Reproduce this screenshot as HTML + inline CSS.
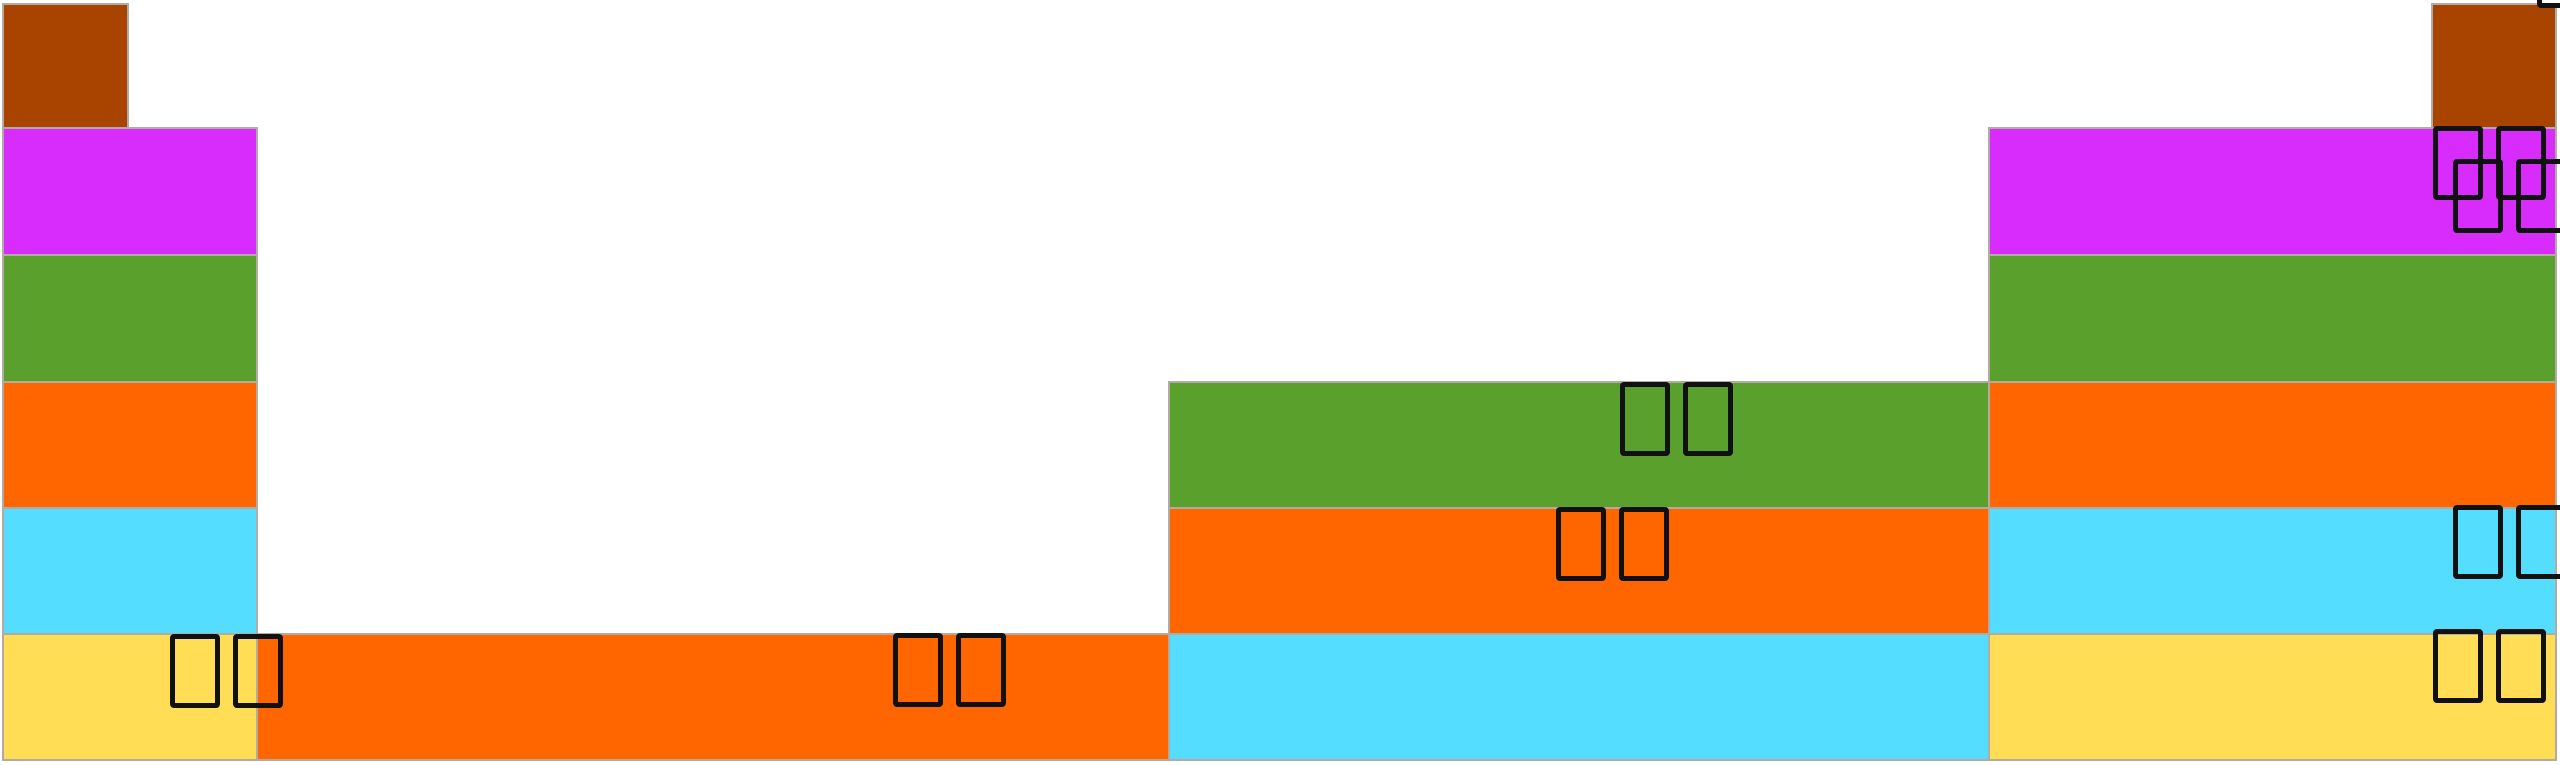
<!DOCTYPE html>
<html><head><meta charset="utf-8"><style>
html,body{margin:0;padding:0;background:#fff;}
body{width:2560px;height:765px;position:relative;overflow:hidden;font-family:"Liberation Sans","Noto Sans CJK SC",sans-serif;}
.r{position:absolute;box-sizing:border-box;border:2px solid #b4aaa4;}
.l{position:absolute;display:flex;gap:13px;}
.l span{display:block;width:50px;height:74px;box-sizing:border-box;border:5px solid #111;border-radius:4px;}
</style></head><body>
<!-- left column -->
<div class="r" style="left:2px;top:3px;width:127px;height:126px;background:#a94400"></div>
<div class="r" style="left:2px;top:127px;width:256px;height:129px;background:#d82cfc"></div>
<div class="r" style="left:2px;top:254px;width:256px;height:129px;background:#5aa02c"></div>
<div class="r" style="left:2px;top:381px;width:256px;height:129px;background:#ff6600"></div>
<div class="r" style="left:2px;top:507px;width:256px;height:129px;background:#55ddff"></div>
<div class="r" style="left:2px;top:633px;width:256px;height:128px;background:#ffdd55"></div>
<!-- col2 -->
<div class="r" style="left:256px;top:633px;width:914px;height:128px;background:#ff6600"></div>
<!-- col3 -->
<div class="r" style="left:1168px;top:381px;width:822px;height:129px;background:#5aa02c"></div>
<div class="r" style="left:1168px;top:507px;width:822px;height:129px;background:#ff6600"></div>
<div class="r" style="left:1168px;top:633px;width:822px;height:128px;background:#55ddff"></div>
<!-- col4 -->
<div class="r" style="left:2431px;top:3px;width:126px;height:126px;background:#a94400"></div>
<div class="r" style="left:1988px;top:127px;width:569px;height:129px;background:#d82cfc"></div>
<div class="r" style="left:1988px;top:254px;width:569px;height:129px;background:#5aa02c"></div>
<div class="r" style="left:1988px;top:381px;width:569px;height:129px;background:#ff6600"></div>
<div class="r" style="left:1988px;top:507px;width:569px;height:129px;background:#55ddff"></div>
<div class="r" style="left:1988px;top:633px;width:569px;height:128px;background:#ffdd55"></div>
<!-- labels -->
<div class="l" style="left:170px;top:634px"><span></span><span></span></div>
<div class="l" style="left:893px;top:633px"><span></span><span></span></div>
<div class="l" style="left:1556px;top:507px"><span></span><span></span></div>
<div class="l" style="left:1620px;top:382px"><span></span><span></span></div>
<div class="l" style="left:2433px;top:126px"><span></span><span></span></div>
<div class="l" style="left:2453px;top:159px"><span></span><span></span></div>
<div class="l" style="left:2453px;top:505px"><span></span><span></span></div>
<div class="l" style="left:2433px;top:629px"><span></span><span></span></div>
<div class="l" style="left:2537px;top:-66px"><span></span><span></span></div>
</body></html>
